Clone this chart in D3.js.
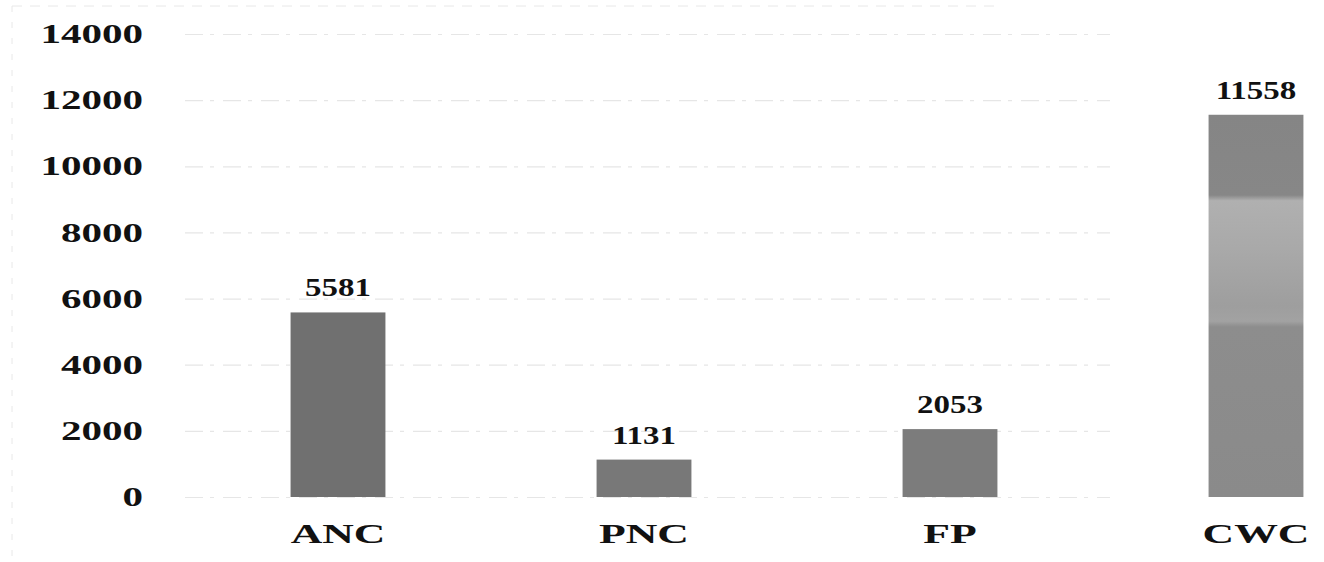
<!DOCTYPE html>
<html>
<head>
<meta charset="utf-8">
<script src="https://cdn.jsdelivr.net/npm/d3@7"></script>
<style>
  html, body { margin: 0; padding: 0; background: #fff; }
  svg { display: block; }
  text { font-family: "Liberation Serif", "Times New Roman", serif; font-weight: bold; fill: #111; }
</style>
</head>
<body>
<svg id="chart" width="1324" height="562"></svg>
<script>
// Service counts by category
const categories = ["ANC", "PNC", "FP", "CWC"];
const values = [5581, 1131, 2053, 11558];
const yTicks = [0, 2000, 4000, 6000, 8000, 10000, 12000, 14000];

const svg = d3.select("#chart");

const y = d3.scaleLinear().domain([0, 14000]).range([497, 34]);
const x = d3.scaleBand()
  .domain(categories)
  .range([185, 1409])
  .paddingInner(0.69)
  .paddingOuter(0.345);

// shading for the tall bar (lighter middle band)
const defs = svg.append("defs");
const grad = defs.append("linearGradient")
  .attr("id", "cwcShade").attr("x1", 0).attr("y1", 0).attr("x2", 0).attr("y2", 1);
[[0, "#858585"], [0.21, "#878787"], [0.225, "#b0b0b0"], [0.35, "#a9a9a9"],
 [0.5, "#9e9e9e"], [0.54, "#a2a2a2"], [0.555, "#8d8d8d"], [1, "#8a8a8a"]]
  .forEach(([o, c]) => grad.append("stop").attr("offset", o).attr("stop-color", c));

const barFills = ["#707070", "#787878", "#7c7c7c", "url(#cwcShade)"];

// faint outer frame
svg.append("line").attr("x1", 12).attr("x2", 12).attr("y1", 6).attr("y2", 562)
  .attr("stroke", "#e8e8e8").attr("stroke-dasharray", "6,10");
svg.append("line").attr("x1", 12).attr("x2", 1000).attr("y1", 6).attr("y2", 6)
  .attr("stroke", "#e8e8e8").attr("stroke-dasharray", "10,8");

// gridlines
const grid = svg.append("g")
  .attr("transform", "translate(185,0)")
  .call(d3.axisLeft(y).tickValues(yTicks).tickSize(-(1110 - 185)).tickFormat(""));
grid.select(".domain").remove();
grid.selectAll(".tick line")
  .attr("stroke", "#e6e6e6").attr("stroke-width", 1.2).attr("stroke-dasharray", "18,7,4,9");

// y tick labels
const yAxis = svg.append("g")
  .attr("transform", "translate(143,0)")
  .call(d3.axisLeft(y).tickValues(yTicks).tickSize(0).tickPadding(0).tickFormat(d3.format("d")));
yAxis.select(".domain").remove();
yAxis.selectAll("text")
  .attr("font-size", 27).attr("fill", "#111")
  .attr("font-family", "Liberation Serif").attr("font-weight", "bold")
  .attr("transform", "scale(1.52,1)");

// bars
svg.append("g").selectAll("rect")
  .data(values)
  .join("rect")
  .attr("x", (d, i) => x(categories[i]))
  .attr("width", x.bandwidth())
  .attr("y", d => y(d))
  .attr("height", d => y(0) - y(d))
  .attr("fill", (d, i) => barFills[i]);

// value labels
svg.append("g").selectAll("text")
  .data(values)
  .join("text")
  .attr("transform", (d, i) =>
    `translate(${x(categories[i]) + x.bandwidth() / 2},${y(d) - 16}) scale(1.32,1)`)
  .attr("text-anchor", "middle")
  .attr("font-size", 25)
  .text(d => d);

// category axis
const xAxis = svg.append("g")
  .attr("transform", `translate(0,${y(0)})`)
  .call(d3.axisBottom(x).tickSize(0).tickPadding(27));
xAxis.select(".domain").remove();
xAxis.selectAll("text")
  .attr("font-size", 27).attr("fill", "#111")
  .attr("font-family", "Liberation Serif").attr("font-weight", "bold")
  .attr("transform", "scale(1.62,1)");
</script>
</body>
</html>
